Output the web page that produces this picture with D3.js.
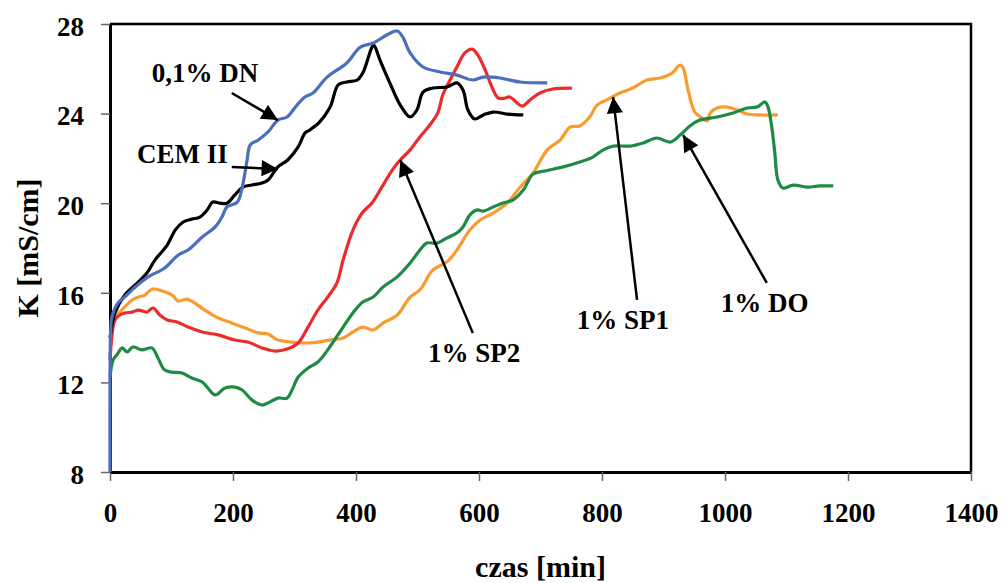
<!DOCTYPE html>
<html>
<head>
<meta charset="utf-8">
<script src="https://cdn.jsdelivr.net/npm/d3@7"></script>
<style>
  body { margin: 0; background: #fff; }
  text { font-family: "Liberation Serif", "Times New Roman", serif; font-weight: bold; fill: #000; }
</style>
</head>
<body>
<div id="chart"></div>
<script>
/* K vs czas chart */

// [czas (min), K (mS/cm)]
const dn = [[0,8],[0,12],[1,14.2],[3,14.9],[13,15.55],[24,15.81],[41,16.26],[62,16.71],[89,17.11],[111,17.69],[127,17.91],[150,18.49],[171,18.94],[182,19.38],[190,19.83],[207,20.05],[215,20.72],[223,21.93],[228,22.6],[241,22.82],[257,23.18],[273,23.71],[288,23.85],[304,24.38],[317,24.74],[330,24.92],[353,25.63],[385,26.26],[407,26.97],[428,27.15],[450,27.51],[467,27.69],[476,27.42],[488,26.71],[509,26.08],[537,25.86],[564,25.72],[590,25.5],[607,25.63],[634,25.59],[667,25.41],[711,25.37]];
const cem = [[0,14.0],[8,15.1],[24,15.9],[46,16.48],[60,16.88],[73,17.46],[93,18.13],[106,18.8],[119,19.16],[133,19.29],[146,19.38],[158,19.7],[167,20.05],[179,20.0],[190,20.0],[203,20.37],[216,20.72],[231,20.81],[247,20.9],[257,21.04],[273,21.62],[289,21.93],[306,22.51],[317,23.13],[325,23.27],[341,23.63],[358,24.29],[371,25.28],[385,25.41],[402,25.5],[411,25.81],[426,26.97],[429,27.06],[439,26.39],[455,25.37],[472,24.38],[488,23.85],[499,24.16],[509,24.96],[525,25.14],[548,25.19],[564,25.37],[574,25.05],[582,24.16],[593,23.76],[607,23.94],[623,24.07],[646,23.98],[672,23.94]];
const sp2 = [[0,13.0],[3,14.03],[8,14.79],[16,15.01],[24,15.1],[36,15.14],[46,15.23],[60,15.14],[70,15.32],[81,15.01],[93,14.79],[109,14.7],[127,14.47],[150,14.25],[176,14.12],[203,13.89],[224,13.8],[247,13.54],[268,13.4],[288,13.49],[306,13.76],[322,14.47],[338,15.23],[354,15.81],[369,16.44],[379,17.46],[395,18.8],[410,19.56],[426,20.01],[442,20.72],[459,21.48],[472,21.93],[488,22.38],[504,22.96],[520,23.49],[533,24.03],[541,24.83],[553,25.5],[564,26.08],[577,26.71],[589,26.88],[598,26.62],[610,25.95],[621,25.19],[631,24.7],[640,24.68],[650,24.74],[670,24.34],[683,24.61],[699,24.92],[720,25.1],[751,25.14]];
const sp1 = [[3,14.7],[8,14.92],[16,15.14],[24,15.37],[36,15.68],[46,15.81],[57,15.9],[62,16.04],[70,16.17],[85,16.08],[101,15.9],[111,15.63],[125,15.72],[138,15.54],[154,15.23],[176,14.88],[198,14.65],[220,14.43],[241,14.21],[257,14.16],[273,13.89],[296,13.8],[317,13.76],[338,13.8],[360,13.9],[379,13.98],[395,14.25],[411,14.47],[428,14.34],[444,14.65],[467,15.01],[488,15.81],[504,16.13],[525,17.02],[548,17.38],[564,17.91],[585,18.8],[602,19.25],[623,19.56],[646,20.01],[667,20.72],[688,21.35],[711,22.38],[732,22.82],[748,23.4],[764,23.45],[780,23.85],[792,24.38],[808,24.61],[829,24.92],[850,25.14],[873,25.5],[894,25.59],[914,25.81],[927,26.17],[932,26.04],[940,25.05],[951,24.07],[963,23.8],[971,23.67],[976,24.03],[987,24.25],[1003,24.29],[1020,24.16],[1036,23.98],[1057,23.94],[1086,23.94]];
const dO = [[0,12.24],[5,13.0],[11,13.22],[20,13.54],[28,13.36],[37,13.58],[52,13.45],[68,13.54],[78,13.09],[89,12.55],[101,12.46],[117,12.42],[133,12.2],[150,12.02],[159,11.75],[171,11.44],[187,11.75],[203,11.79],[215,11.66],[231,11.21],[247,10.99],[257,11.08],[273,11.3],[288,11.3],[296,11.66],[306,12.24],[322,12.64],[338,12.91],[354,13.45],[379,14.47],[395,15.1],[411,15.59],[428,15.81],[444,16.26],[467,16.71],[488,17.33],[504,17.91],[515,18.22],[532,18.22],[548,18.45],[564,18.67],[574,18.94],[585,19.47],[597,19.7],[607,19.65],[623,19.83],[639,20.01],[655,20.14],[672,20.59],[688,21.3],[707,21.44],[737,21.62],[764,21.84],[785,22.06],[802,22.38],[818,22.55],[846,22.55],[867,22.69],[889,22.91],[911,22.73],[927,23.04],[943,23.45],[959,23.71],[987,23.85],[1013,24.03],[1036,24.25],[1052,24.29],[1065,24.52],[1070,24.29],[1076,23.4],[1081,22.24],[1086,21.04],[1094,20.68],[1111,20.81],[1133,20.72],[1154,20.77],[1176,20.77]];

const xTicks = [0, 200, 400, 600, 800, 1000, 1200, 1400];
const yTicks = [8, 12, 16, 20, 24, 28];

const series = [
  { data: sp1, color: "#f99b2e" },
  { data: dO, color: "#1f8a44" },
  { data: sp2, color: "#ec2b2b" },
  { data: cem, color: "#000000" },
  { data: dn, color: "#4a6fbd" }
];

// label text, label position [t, K], arrow from [t, K] to [t, K]
const notes = [
  { text: "0,1% DN", at: [68, 25.41], from: [198, 24.92], to: [273, 23.71] },
  { text: "CEM II", at: [44, 21.8], from: [198, 21.62], to: [273, 21.53] },
  { text: "1% SP2", at: [517, 12.91], from: [590, 14.2], to: [472, 21.93] },
  { text: "1% SP1", at: [759, 14.38], from: [857, 15.68], to: [818, 24.74] },
  { text: "1% DO", at: [993, 15.14], from: [1068, 16.44], to: [932, 23.04] }
];

const width = 1004,
  height = 583,
  margin = ({ top: 24, right: 33, bottom: 111, left: 110 });

const svg = d3.select("#chart")
  .append("svg")
  .attr("width", width)
  .attr("height", height);

let x = d3.scaleLinear()
  .domain([0, 1400])
  .range([margin.left, width - margin.right]);

let y = d3.scaleLinear()
  .domain([8, 28])
  .range([height - margin.bottom, margin.top]);

// frame top / right
svg.append("path")
  .attr("d", `M${x(0)},${y(28)}H${x(1400)}V${y(8)}`)
  .attr("fill", "none")
  .attr("stroke", "#000")
  .attr("stroke-width", 2.5);

let xAxis = svg.append("g")
  .attr("transform", `translate(0,${y(8)})`)
  .call(d3.axisBottom(x).tickValues(xTicks).tickFormat(d3.format("d")).tickSize(9).tickSizeOuter(0).tickPadding(22));

let yAxis = svg.append("g")
  .attr("transform", `translate(${x(0)},0)`)
  .call(d3.axisLeft(y).tickValues(yTicks).tickFormat(d3.format("d")).tickSize(9).tickSizeOuter(0).tickPadding(17));

for (let ax of [xAxis, yAxis]) {
  ax.select(".domain").attr("stroke", "#000").attr("stroke-width", 3);
  ax.selectAll(".tick line").attr("stroke", "#666").attr("stroke-width", 1.5);
  ax.selectAll(".tick text")
    .attr("font-family", "Liberation Serif, serif")
    .attr("font-weight", "bold")
    .attr("font-size", 27)
    .attr("fill", "#000");
}
yAxis.selectAll(".tick text").attr("dy", "0.42em");

let line = d3.line()
  .x(d => x(d[0]))
  .y(d => y(d[1]))
  .curve(d3.curveCatmullRom.alpha(0.5));

svg.append("g")
  .selectAll("path")
  .data(series)
  .join("path")
  .attr("d", d => line(d.data))
  .attr("fill", "none")
  .attr("stroke", d => d.color)
  .attr("stroke-width", 3.2)
  .attr("stroke-linejoin", "round");

svg.append("defs").append("marker")
  .attr("id", "head")
  .attr("viewBox", "0 0 10 10")
  .attr("refX", 10)
  .attr("refY", 5)
  .attr("markerWidth", 7.5)
  .attr("markerHeight", 6.5)
  .attr("markerUnits", "strokeWidth")
  .attr("orient", "auto")
  .append("path")
  .attr("d", "M0,0L10,5L0,10Z")
  .attr("fill", "#000");

svg.append("g")
  .selectAll("line")
  .data(notes)
  .join("line")
  .attr("x1", d => x(d.from[0]))
  .attr("y1", d => y(d.from[1]))
  .attr("x2", d => x(d.to[0]))
  .attr("y2", d => y(d.to[1]))
  .attr("stroke", "#000")
  .attr("stroke-width", 2.5)
  .attr("marker-end", "url(#head)");

svg.append("g")
  .selectAll("text")
  .data(notes)
  .join("text")
  .attr("x", d => x(d.at[0]))
  .attr("y", d => y(d.at[1]))
  .attr("font-size", 27)
  .text(d => d.text);

svg.append("text")
  .attr("text-anchor", "middle")
  .attr("x", (x(0) + x(1400)) / 2)
  .attr("y", 577)
  .attr("font-size", 30)
  .text("czas [min]");

svg.append("text")
  .attr("text-anchor", "middle")
  .attr("transform", `translate(38,${(y(8) + y(28)) / 2}) rotate(-90)`)
  .attr("font-size", 30)
  .text("K [mS/cm]");
</script>
</body>
</html>
